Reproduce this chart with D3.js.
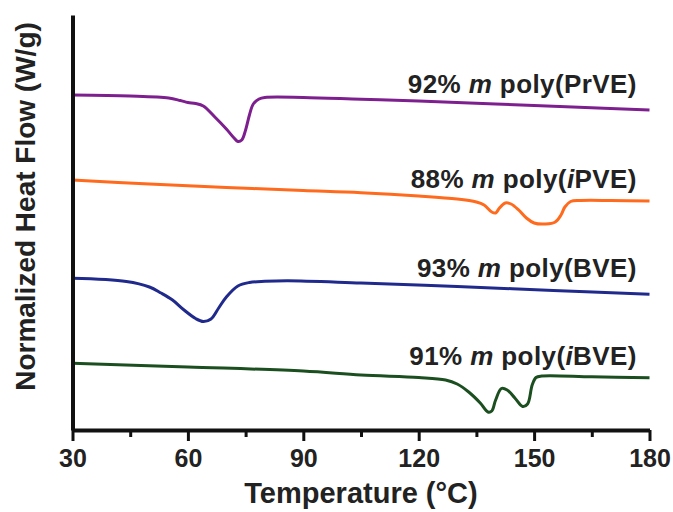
<!DOCTYPE html>
<html>
<head>
<meta charset="utf-8">
<script src="https://cdn.jsdelivr.net/npm/d3@7"></script>
<style>
  body { margin: 0; background: #fff; }
  svg text { font-family: "Liberation Sans", Arial, sans-serif; font-weight: bold; fill: #222; }
</style>
</head>
<body>
<svg id="dscChart" width="673" height="512"></svg>
<script>
// temperature (°C) and offset heat flow (arbitrary, stacked)
const prveT = [30, 45, 55, 58, 60, 62, 64, 67, 70, 72, 73, 74, 75, 76, 77, 78.5, 80, 90, 105, 120, 140, 160, 180];
const prveHF = [33.5, 33.4, 33.2, 32.95, 32.75, 32.65, 32.4, 31.3, 30.1, 29.2, 28.85, 29.0, 30.0, 31.5, 32.6, 33.1, 33.25, 33.25, 33.07, 32.9, 32.6, 32.3, 32.0];

const ipveT = [30, 50, 70, 90, 105, 120, 130, 135, 137, 139, 140, 141, 142.5, 144, 146, 148, 150, 153, 155.5, 157, 158, 159.5, 162, 170, 180];
const ipveHF = [25.0, 24.6, 24.25, 23.95, 23.73, 23.4, 23.1, 22.8, 22.5, 21.8, 21.7, 22.2, 22.7, 22.6, 22.0, 21.2, 20.7, 20.6, 20.8, 21.5, 22.3, 22.85, 22.95, 22.95, 22.9];

const bveT = [30, 44, 50, 53, 56, 59, 62, 64, 66, 68, 70, 73, 76, 80, 86, 105, 130, 155, 180];
const bveHF = [15.17, 14.85, 14.3, 13.7, 13.0, 12.0, 11.15, 10.85, 11.1, 12.2, 13.3, 14.4, 14.75, 14.87, 14.93, 14.7, 14.35, 13.95, 13.57];

const ibveT = [30, 60, 90, 105, 120, 127, 130, 133, 136, 138, 139, 140, 141.5, 143, 145, 147, 148.3, 149.5, 150.5, 152, 165, 180];
const ibveHF = [6.67, 6.3, 5.9, 5.5, 5.25, 5.0, 4.6, 3.8, 2.7, 1.8, 1.9, 3.0, 4.15, 4.0, 3.2, 2.35, 2.6, 4.5, 5.25, 5.4, 5.32, 5.23];

const seriesPct = ["92%", "88%", "93%", "91%"];
const seriesPoly = ["PrVE", "iPVE", "BVE", "iBVE"];
const seriesColors = ["#7d1f8e", "#ff6a1c", "#1f2a8c", "#1b4f1f"];
// label anchor (temperature, heat flow) for each trace
const labelT = [176.7, 176.7, 176.7, 176.7];
const labelHF = [33.67, 24.2, 15.33, 6.5];

const xMajor = [30, 60, 90, 120, 150, 180];
const xMinor = [45, 75, 105, 135, 165];

const traces = [
    {t: prveT, hf: prveHF},
    {t: ipveT, hf: ipveHF},
    {t: bveT, hf: bveHF},
    {t: ibveT, hf: ibveHF}
];

const svg = d3.select('#dscChart');

const xScale = d3.scaleLinear().domain([30, 180]).range([72.5, 649.5]);
const yScale = d3.scaleLinear().domain([0, 41.5]).range([430, 15]);

const line = d3.line()
    .x(d => xScale(d[0]))
    .y(d => yScale(d[1]))
    .curve(d3.curveCatmullRom.alpha(0.5));

traces.forEach(function(tr, i) {
    svg.append("path")
        .datum(tr.t.map((t, j) => [t, tr.hf[j]]))
        .attr("fill", "none")
        .attr("stroke", seriesColors[i])
        .attr("stroke-width", 3)
        .attr("stroke-linejoin", "round")
        .attr("d", line);
});

// labels: "92% m poly(PrVE)", with m and leading i in italics
seriesPct.forEach(function(pct, i) {
    const txt = svg.append("text")
        .attr("x", xScale(labelT[i]))
        .attr("y", yScale(labelHF[i]))
        .attr("text-anchor", "end")
        .style("font-size", "26px")
        .style("letter-spacing", "0.4px");
    txt.append("tspan").text(pct + " ");
    txt.append("tspan").style("font-style", "italic").text("m");
    txt.append("tspan").text(" poly(");
    let name = seriesPoly[i];
    if (name[0] === "i") {
        txt.append("tspan").style("font-style", "italic").text("i");
        name = name.slice(1);
    }
    txt.append("tspan").text(name + ")");
});

// y axis: bare line
svg.append("g")
    .attr("transform", `translate(${xScale(30)},0)`)
    .call(d3.axisLeft(yScale).tickValues([]).tickSizeOuter(0))
    .call(g => g.select(".domain").attr("stroke", "#111").attr("stroke-width", 4));

// x axis, minor ticks first
svg.append("g")
    .attr("transform", `translate(0,${yScale(0)})`)
    .call(d3.axisBottom(xScale).tickValues(xMinor).tickSize(7).tickSizeOuter(0).tickFormat(""))
    .call(g => g.select(".domain").remove())
    .call(g => g.selectAll(".tick line").attr("stroke", "#111").attr("stroke-width", 3));

svg.append("g")
    .attr("transform", `translate(0,${yScale(0)})`)
    .call(d3.axisBottom(xScale).tickValues(xMajor).tickSize(11).tickSizeOuter(0).tickPadding(8))
    .call(g => g.select(".domain").attr("stroke", "#111").attr("stroke-width", 4))
    .call(g => g.selectAll(".tick line").attr("stroke", "#111").attr("stroke-width", 3))
    .call(g => g.selectAll(".tick text")
        .attr("fill", "#222")
        .style("font-family", "'Liberation Sans', Arial, sans-serif")
        .style("font-weight", "bold")
        .style("font-size", "25px"));

svg.append("text")
    .attr("x", (xScale(30) + xScale(180)) / 2)
    .attr("y", 503)
    .attr("text-anchor", "middle")
    .style("font-size", "29px")
    .text("Temperature (°C)");

svg.append("text")
    .attr("transform", `translate(35,${(yScale(41.5) + 398) / 2}) rotate(-90)`)
    .attr("text-anchor", "middle")
    .style("font-size", "28px")
    .text("Normalized Heat Flow (W/g)");
</script>
</body>
</html>
